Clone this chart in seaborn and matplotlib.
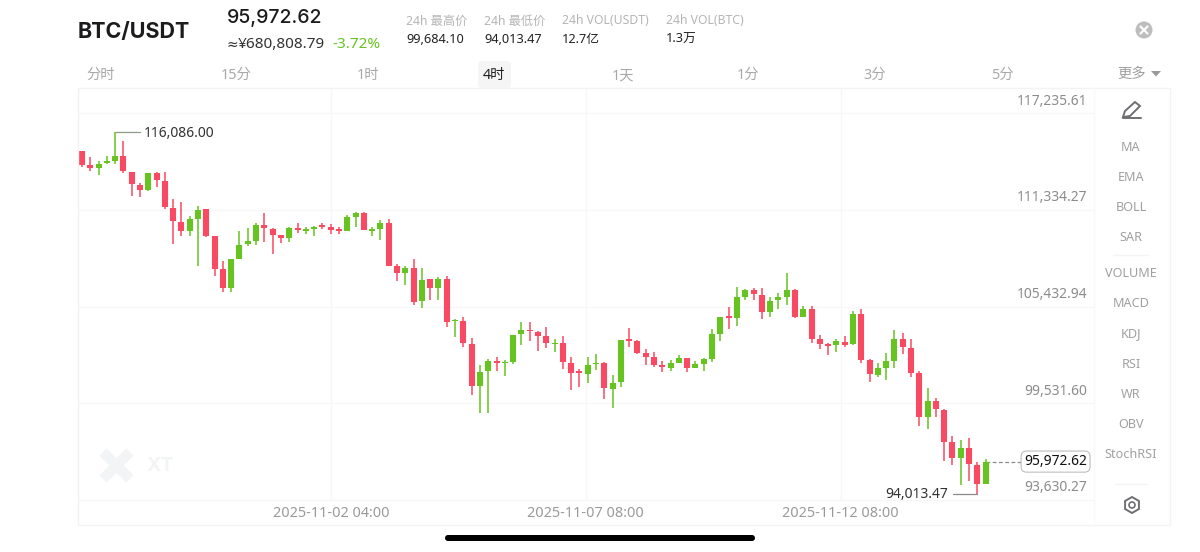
import matplotlib
matplotlib.use("Agg")
import matplotlib.pyplot as plt
import matplotlib.patches as mpatches
import numpy as np
import pandas as pd
import seaborn as sns

# 4h candles
opens = [114918, 114085, 113861, 114166, 114329, 114613, 113658, 112865, 112519, 113556,
         113109, 111462, 110588, 110019, 110751, 111361, 109714, 107701, 106563, 108311,
         109226, 109450, 110385, 110181, 109795, 109612, 110242, 110039, 110161, 110425,
         110283, 110161, 110059, 110893, 111157, 110039, 110181, 110507, 107924, 107476,
         107781, 105769, 107090, 106582, 107131, 104529, 104569, 103166, 100564, 101520,
         102130, 101967, 102028, 103736, 104020, 103878, 103614, 103146, 103207, 102008,
         101479, 101337, 101906, 101987, 100422, 100829, 103451, 103309, 102577, 102353,
         101865, 101682, 101987, 102292, 101682, 101946, 102231, 103756, 104833, 104711,
         106033, 106419, 106155, 105077, 105829, 106033, 106439, 104792, 105280, 103430,
         103126, 103085, 103288, 103126, 104996, 102170, 101276, 101662, 102129, 103451,
         102902, 101357, 98693, 99669, 99141, 97149, 96173, 96783, 95766, 94628]
closes = [114085, 113861, 114146, 114308, 114613, 113678, 112906, 112519, 113556, 113129,
          111482, 110629, 110019, 110751, 111340, 109714, 107721, 106563, 108311, 109185,
          109429, 110405, 110202, 109816, 109612, 110202, 110100, 110161, 110263, 110303,
          110100, 110059, 110873, 111157, 110120, 110161, 110507, 107925, 107476, 107781,
          105728, 107050, 106582, 107131, 104488, 104610, 103187, 100564, 101459, 102109,
          102008, 102069, 103695, 103980, 103919, 103634, 103187, 103227, 102028, 101398,
          101357, 101886, 102008, 100442, 100767, 103370, 103349, 102597, 102353, 101865,
          101743, 101967, 102292, 101682, 101926, 102231, 103735, 104772, 104732, 105992,
          106460, 106175, 105077, 105789, 106012, 106419, 104792, 105301, 103451, 103126,
          103044, 103308, 103105, 104996, 102170, 101296, 101662, 102109, 103451, 102943,
          101357, 98714, 99669, 99161, 97169, 96193, 96783, 95807, 94628, 95972.62]
highs = [114918, 114532, 114329, 114634, 116086, 115549, 113658, 112946, 113556, 113617,
         113617, 111991, 111787, 110974, 111584, 111381, 109714, 108189, 108311, 110019,
         110202, 110507, 111157, 110242, 109816, 110263, 110507, 110263, 110324, 110507,
         110466, 110263, 111035, 111178, 111198, 110303, 110710, 110751, 108025, 107903,
         108310, 107761, 107131, 107253, 107293, 104691, 104813, 103492, 101865, 102252,
         102374, 102170, 103715, 104488, 104508, 103939, 104183, 103451, 103614, 102374,
         101642, 102333, 102516, 102028, 101235, 103390, 104102, 103390, 102821, 102658,
         102130, 102170, 102455, 102313, 102089, 102312, 104081, 104792, 105423, 106602,
         106500, 106561, 106541, 106033, 106236, 107456, 106500, 105463, 105463, 103695,
         103187, 103430, 103634, 105158, 105301, 102251, 101967, 102577, 104020, 103796,
         103451, 101499, 100483, 99873, 99161, 97535, 97291, 97413, 95929, 96132]
lows = [113922, 113719, 113475, 114105, 114125, 113556, 112174, 112092, 112499, 112723,
        111401, 109246, 109734, 109734, 107925, 109694, 107315, 106339, 106339, 108311,
        109124, 109206, 109368, 108616, 109307, 109388, 109897, 109836, 109714, 110181,
        109836, 109856, 110039, 110303, 110100, 109734, 109490, 107904, 107009, 106745,
        105525, 105321, 105809, 105830, 104183, 103593, 102963, 100036, 98958, 98958,
        101500, 101174, 101906, 103085, 103309, 102719, 102882, 102679, 101621, 100320,
        100524, 100747, 101581, 99792, 99263, 100524, 102963, 102557, 101886, 101723,
        101459, 101520, 101967, 101418, 101662, 101520, 102068, 103329, 104061, 104264,
        105850, 105850, 104691, 104793, 105260, 105504, 104752, 104772, 103187, 102841,
        102475, 102678, 102983, 103105, 101967, 100808, 101113, 100930, 101662, 102536,
        101154, 98145, 97982, 98714, 96010, 95746, 94546, 94811, 94013.47, 94607]
price_levels = [117235.61, 111334.27, 105432.94, 99531.60, 93630.27]
date_labels = ["2025-11-02 04:00", "2025-11-07 08:00", "2025-11-12 08:00"]
date_pos = [30.04, 60.76, 91.5]
high_price = 116086.00
low_price = 94013.47
last_price = 95972.62

tabs = ["分时", "15分", "1时", "4时", "1天", "1分", "3分", "5分"]
tab_x = [101, 236, 368, 494, 623, 748, 875, 1002]
stats = [("24h 最高价", "99,684.10", 406), ("24h 最低价", "94,013.47", 484),
         ("24h VOL(USDT)", "12.7亿", 562), ("24h VOL(BTC)", "1.3万", 666)]
indicators = [("MA", 147), ("EMA", 177), ("BOLL", 207), ("SAR", 237), ("VOLUME", 273),
              ("MACD", 303), ("KDJ", 333), ("RSI", 364), ("WR", 394), ("OBV", 424), ("StochRSI", 454)]

RED = "#f94a63"
GREEN = "#66c322"
GRID = "#f7f7f7"
GREY = "#9a9a9a"
DARK = "#1c1c1e"

sns.set_theme(style="white")
plt.rcParams["font.family"] = ["Noto Sans", "Noto Sans CJK SC"]

df = pd.DataFrame({"i": np.arange(len(opens)), "open": opens, "close": closes, "high": highs, "low": lows})
df["kind"] = np.where(df["close"] >= df["open"], "up", "down")
wicks = df.melt(id_vars=["i", "kind"], value_vars=["low", "high"], value_name="price")
bodies = df.melt(id_vars=["i", "kind"], value_vars=["open", "close"], value_name="price")
palette = {"up": GREEN, "down": RED}

fig = plt.figure(figsize=(12, 5.52), dpi=100)
ax = fig.add_axes([78 / 1200, (552 - 525) / 552, (1094 - 78) / 1200, (525 - 88) / 552])

sns.lineplot(data=wicks, x="i", y="price", hue="kind", units="i", estimator=None, palette=palette,
             linewidth=1.1, legend=False, solid_capstyle="butt", ax=ax, zorder=3)
sns.lineplot(data=bodies, x="i", y="price", hue="kind", units="i", estimator=None, palette=palette,
             linewidth=4.4, legend=False, solid_capstyle="butt", ax=ax, zorder=4)

ax.set_xlim(-0.48, 122.07)
ax.set_ylim(92105, 118761)
ax.set_xlabel("")
ax.set_ylabel("")
sns.despine(ax=ax, left=True, bottom=True)
ax.set_yticks(price_levels)
ax.set_yticklabels([])
ax.set_xticks(date_pos)
ax.set_xticklabels(date_labels)
ax.tick_params(axis="x", length=0, pad=-13.5, labelsize=10.4, labelcolor=GREY)
ax.tick_params(axis="y", length=0)
ax.grid(axis="y", color=GRID, linewidth=1)
ax.vlines(date_pos, price_levels[-1], 118761, color=GRID, linewidth=1, zorder=1)
for v in price_levels:
    ax.annotate(f"{v:,.2f}", xy=(1, v), xycoords=("axes fraction", "data"), xytext=(-7, 12),
                textcoords="offset pixels", ha="right", va="center", fontsize=10, color="#8c8c8c")

# high / low / last markers
ax.annotate(f"{high_price:,.2f}", xy=(4, high_price), xytext=(29, -2), textcoords="offset pixels",
            ha="left", va="center", fontsize=10, color="#333333")
ax.plot([4, 7.0], [high_price, high_price], color="#8f9a88", linewidth=0.9, zorder=2)
ax.annotate(f"{low_price:,.2f}", xy=(108, low_price), xytext=(-29, -1), textcoords="offset pixels",
            ha="right", va="center", fontsize=10, color="#333333")
ax.plot([105.1, 108], [low_price, low_price], color="#8a8a8a", linewidth=0.9, zorder=2)
ax.plot([109, 113.4], [last_price, last_price], color="#8a8a8a", linewidth=0.9, linestyle=(0, (3, 2)), zorder=2)
ax.annotate(f"{last_price:,.2f}", xy=(1, last_price), xycoords=("axes fraction", "data"), xytext=(-7, 0),
            textcoords="offset pixels", ha="right", va="center", fontsize=10, color="#111111",
            bbox=dict(boxstyle="round,pad=0.22,rounding_size=0.4", fc="white", ec="#bdbdbd", lw=0.8), zorder=6)

# screen chrome on a full figure overlay in pixel coordinates
ui = fig.add_axes([0, 0, 1, 1], zorder=5)
ui.set_xlim(0, 1200)
ui.set_ylim(552, 0)
ui.axis("off")
ui.patch.set_alpha(0)
ui.add_patch(mpatches.Rectangle((78, 88), 1092, 437, fill=False, ec="#f3f3f3", lw=1))
ui.plot([1094, 1094], [88, 525], color="#f9f9f9", lw=1)
ui.add_patch(mpatches.FancyBboxPatch((478, 61), 33, 27, boxstyle="round,pad=0,rounding_size=4", fc="#f5f5f5", ec="none"))

ui.text(78, 32, "BTC/USDT", fontsize=15.5, fontweight="bold", family="Inter", color=DARK, va="center")
ui.text(227, 18, "95,972.62", fontsize=14, fontweight="medium", family="Inter", color=DARK, va="center")
ui.text(227, 45, "≈", fontsize=10, family="DejaVu Sans", color="#333333", va="center")
ui.text(238, 45, "¥680,808.79", fontsize=11, color="#333333", va="center")
ui.text(332, 45, "-3.72%", fontsize=11, color=GREEN, va="center")
for head, val, x in stats:
    ui.text(x, 21, head, fontsize=8.8, color="#b5b5b5", va="center")
    ui.text(x, 39.5, val, fontsize=9.2, color="#222222", va="center")
for name, x in zip(tabs, tab_x):
    ui.text(x, 75.5, name, fontsize=10.3, color="#222222" if name == "4时" else "#a8a8a8", ha="center", va="center")
ui.text(1132, 74.5, "更多", fontsize=10.3, color="#a0a0a0", ha="center", va="center")
ui.add_patch(mpatches.Polygon([[1151, 71], [1161, 71], [1156, 76.5]], fc="#9a9a9a", ec="none"))

# close button
ui.add_patch(mpatches.Circle((1144, 30), 8.5, fc="#bdbdbd", ec="none"))
ui.plot([1140.5, 1147.5], [26.5, 33.5], color="white", lw=1.6)
ui.plot([1140.5, 1147.5], [33.5, 26.5], color="white", lw=1.6)

# side toolbar
for name, y in indicators:
    ui.text(1131, y + 0.7, name, fontsize=9.1, color="#a0a0a0", ha="center", va="center")
ui.plot([1113, 1148], [255, 255], color="#f4f4f4", lw=1)
ui.plot([1115, 1147], [484, 484], color="#f4f4f4", lw=1)
ui.plot([1123, 1141], [118, 118], color="#6e6e73", lw=1.4)
ui.add_patch(mpatches.Polygon([[1123, 117], [1125, 111], [1135, 102], [1140, 106], [1130, 116]],
                              fill=False, ec="#6e6e73", lw=1.4))
ui.add_patch(mpatches.RegularPolygon((1132, 505), 6, radius=8, fill=False, ec="#6e6e73", lw=1.4))
ui.add_patch(mpatches.Circle((1132, 505), 3, fill=False, ec="#6e6e73", lw=1.2))

# watermark
ui.plot([103, 130], [452, 479], color="#f3f4f5", lw=7.5, solid_capstyle="butt")
ui.plot([103, 130], [479, 452], color="#f3f4f5", lw=7.5, solid_capstyle="butt")
ui.text(147, 466, "XT", fontsize=14, fontweight="bold", family="Inter", color="#f3f4f5", va="center")

# home indicator
ui.add_patch(mpatches.FancyBboxPatch((445, 535), 310, 6, boxstyle="round,pad=0,rounding_size=3", fc="black", ec="none"))

fig.savefig("out.png", dpi=100)
